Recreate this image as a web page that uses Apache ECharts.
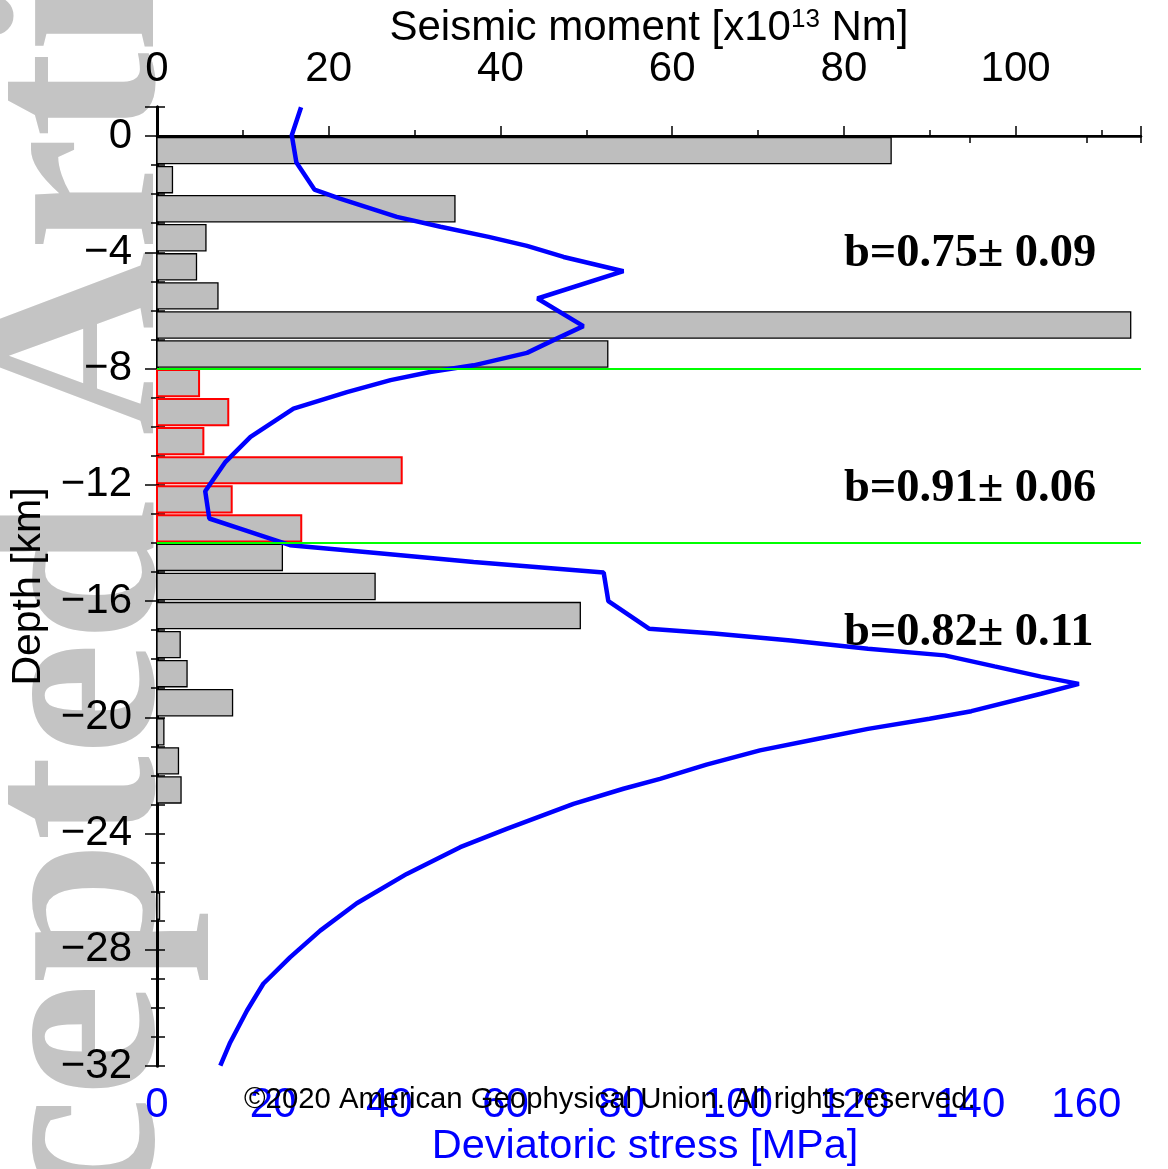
<!DOCTYPE html>
<html><head><meta charset="utf-8">
<script src="https://cdn.jsdelivr.net/npm/echarts@6/dist/echarts.min.js"></script>
<style>html,body{margin:0;padding:0;background:#fff}#c{width:1168px;height:1169px}</style>
</head><body><div id="c"></div>
<script>
// Depth bins (top of each 1-km bin, km) and seismic moment per bin [x10^13 Nm]
const binTop = [0,-1,-2,-3,-4,-5,-6,-7,-8,-9,-10,-11,-12,-13,-14,-15,-16,-17,-18,-19,-20,-21,-22,-23,-24,-25,-26];
const moment = [85.5,1.8,34.7,5.7,4.6,7.1,113.4,52.5,4.9,8.3,5.4,28.5,8.7,16.8,14.6,25.4,49.3,2.7,3.5,8.8,0.8,2.5,2.8,0,0,0,0.3];
const highlightBins = [-8,-9,-10,-11,-12,-13];

// Deviatoric stress profile
const stressDepth = [0.99,0.03,-0.91,-1.84,-2.15,-2.78,-3.12,-3.47,-3.78,-4.16,-4.65,-5.59,-6.54,-6.97,-7.46,-7.89,-8.12,-8.40,-8.81,-9.38,-10.35,-11.21,-12.22,-13.16,-13.51,-14.08,-14.34,-14.66,-15.02,-16.0,-16.95,-17.12,-17.36,-17.64,-17.87,-18.25,-18.60,-18.85,-19.19,-19.79,-20.05,-20.40,-20.74,-21.14,-21.63,-22.12,-22.46,-22.98,-23.84,-24.47,-25.39,-26.40,-27.34,-28.26,-29.17,-30.09,-31.19,-31.99];
const stressValue = [24.8,23.2,24.0,27.1,31.5,41.3,48.8,57.1,63.7,70.0,80.3,65.5,73.4,68.8,63.7,54.5,47.0,40.2,32.7,23.5,16.1,11.8,8.3,9.0,14.3,22.9,37.3,54.5,76.9,77.7,84.7,95.9,109.1,122.4,135.6,144.2,152.2,158.7,152.2,140.2,133.0,122.4,113.8,103.8,94.6,86.6,80.3,71.7,60.2,52.2,43.0,34.4,28.1,22.9,18.3,15.5,12.6,10.9];

// b-value annotations
const bText = ['b=0.75\u00b1 0.09','b=0.91\u00b1 0.06','b=0.82\u00b1 0.11'];
const bDepth = [-4.05,-12.15,-17.1];
const bMoment = [80,80,80];

const boundaryDepth = [-8,-14];

const momentMax = 114.6, stressMax = 169.4, depthMin = -32, depthMax = 1;

const chart = echarts.init(document.getElementById('c'));
const SANS = 'Liberation Sans';
const minus = v => v < 0 ? '\u2212' + (-v) : String(v);

chart.setOption({
  animation: false,
  backgroundColor: '#fff',
  grid: { left: 157, right: 27, top: 107, bottom: 103, outerBoundsMode: 'none' },
  graphic: [
    { type: 'text', z: -1, x: 87, y: 1509, rotation: Math.PI / 2,
      style: { text: 'Accepted Article', fontFamily: 'Liberation Serif', fontWeight: 'bold', fontSize: 256,
               fill: '#c4c4c4', align: 'left', verticalAlign: 'middle' } },
    { type: 'text', z: 10, x: 244, y: 1100,
      style: { text: '\u00a92020 American Geophysical Union. All rights reserved.', fontFamily: SANS,
               fontSize: 29.3, fill: '#000', align: 'left', verticalAlign: 'middle' } }
  ],
  xAxis: [
    { type: 'value', position: 'top', min: 0, max: momentMax, interval: 20,
      axisLine: { show: true, lineStyle: { color: '#000', width: 2 } },
      axisTick: { show: true, length: 10, lineStyle: { color: '#000', width: 1.5 } },
      axisLabel: { fontFamily: SANS, fontSize: 42, color: '#000', margin: 17,
                   formatter: v => (v % 20 === 0) ? String(v) : '' },
      splitLine: { show: false },
      name: '{a|Seismic moment [x10}{s|13}{a| Nm]}', nameLocation: 'middle', nameGap: 58, nameMoveOverlap: false,
      nameTextStyle: { rich: { a: { fontFamily: SANS, fontSize: 42, color: '#000' },
                               s: { fontFamily: SANS, fontSize: 26, color: '#000', verticalAlign: 'top' } } } },
    { type: 'value', position: 'bottom', min: 0, max: stressMax, interval: 20,
      axisLine: { show: true, lineStyle: { color: '#000', width: 2.5 } },
      axisTick: { show: true, length: 7, lineStyle: { color: '#000', width: 1.5 } },
      axisLabel: { fontFamily: SANS, fontSize: 42, color: '#0000ff', margin: 18,
                   formatter: v => (v % 20 === 0) ? String(v) : '' },
      splitLine: { show: false },
      name: 'Deviatoric stress [MPa]', nameLocation: 'middle', nameGap: 60, nameMoveOverlap: false,
      nameTextStyle: { fontFamily: SANS, fontSize: 41.5, color: '#0000ff', padding: [0, 8, 0, 0] } },
    { type: 'value', position: 'top', min: 0, max: momentMax, interval: 10,
      axisLine: { show: false }, axisLabel: { show: false }, splitLine: { show: false },
      axisTick: { show: true, length: 6, lineStyle: { color: '#000', width: 1.5 } } }
  ],
  yAxis: [
    { type: 'value', position: 'left', min: depthMin, max: depthMax, interval: 4,
      axisLine: { show: true, lineStyle: { color: '#000', width: 3 } },
      axisTick: { show: true, length: 12, lineStyle: { color: '#000', width: 1.5 } },
      axisLabel: { fontFamily: SANS, fontSize: 42, color: '#000', margin: 25,
                   formatter: v => (v % 4 === 0) ? minus(v) : '' },
      splitLine: { show: false },
      name: 'Depth [km]', nameLocation: 'middle', nameGap: 108, nameMoveOverlap: false,
      nameTextStyle: { fontFamily: SANS, fontSize: 41, color: '#000' } },
    { type: 'value', position: 'left', min: depthMin, max: depthMax, interval: 1,
      axisLine: { show: false }, axisLabel: { show: false }, splitLine: { show: false },
      axisTick: { show: true, length: 6, lineStyle: { color: '#000', width: 1.5 } } },
    { type: 'value', position: 'right', min: depthMin, max: depthMax, interval: 1,
      axisLine: { show: true, lineStyle: { color: '#000', width: 3 } },
      axisLabel: { show: false }, splitLine: { show: false },
      axisTick: { show: true, length: 8, lineStyle: { color: '#000', width: 1.5 } } }
  ],
  series: [
    { type: 'custom', xAxisIndex: 0, yAxisIndex: 0, z: 2,
      data: binTop.map((d, i) => [moment[i], d, highlightBins.indexOf(d) >= 0 ? 1 : 0]),
      renderItem: function (params, api) {
        const v = api.value(0), top = api.value(1), hi = api.value(2);
        if (!(v > 0)) return null;
        const p0 = api.coord([0, top - 0.05]);
        const p1 = api.coord([v, top - 0.95]);
        return { type: 'rect',
          shape: { x: p0[0], y: p0[1], width: p1[0] - p0[0], height: p1[1] - p0[1] },
          style: { fill: '#bebebe', stroke: hi ? '#ff0000' : '#000', lineWidth: hi ? 2 : 1.3 } };
      },
      markLine: { silent: true, symbol: ['none', 'none'], label: { show: false },
        lineStyle: { color: '#00ff00', width: 2, type: 'solid' },
        data: boundaryDepth.map(d => ({ yAxis: d })) }
    },
    { type: 'line', xAxisIndex: 1, yAxisIndex: 0, z: 3, symbol: 'none', smooth: false,
      lineStyle: { color: '#0000ff', width: 4.5 },
      data: stressValue.map((s, i) => [s, stressDepth[i]]) },
    { type: 'scatter', xAxisIndex: 0, yAxisIndex: 0, z: 4, symbolSize: 0, silent: true,
      data: bText.map((t, i) => [bMoment[i], bDepth[i], t]),
      label: { show: true, position: 'right', distance: 0, formatter: p => p.data[2],
               fontFamily: 'Liberation Serif', fontWeight: 'bold', fontSize: 46.5, color: '#000',
               opacity: 1, textBorderWidth: 0 } }
  ]
});
</script></body></html>
